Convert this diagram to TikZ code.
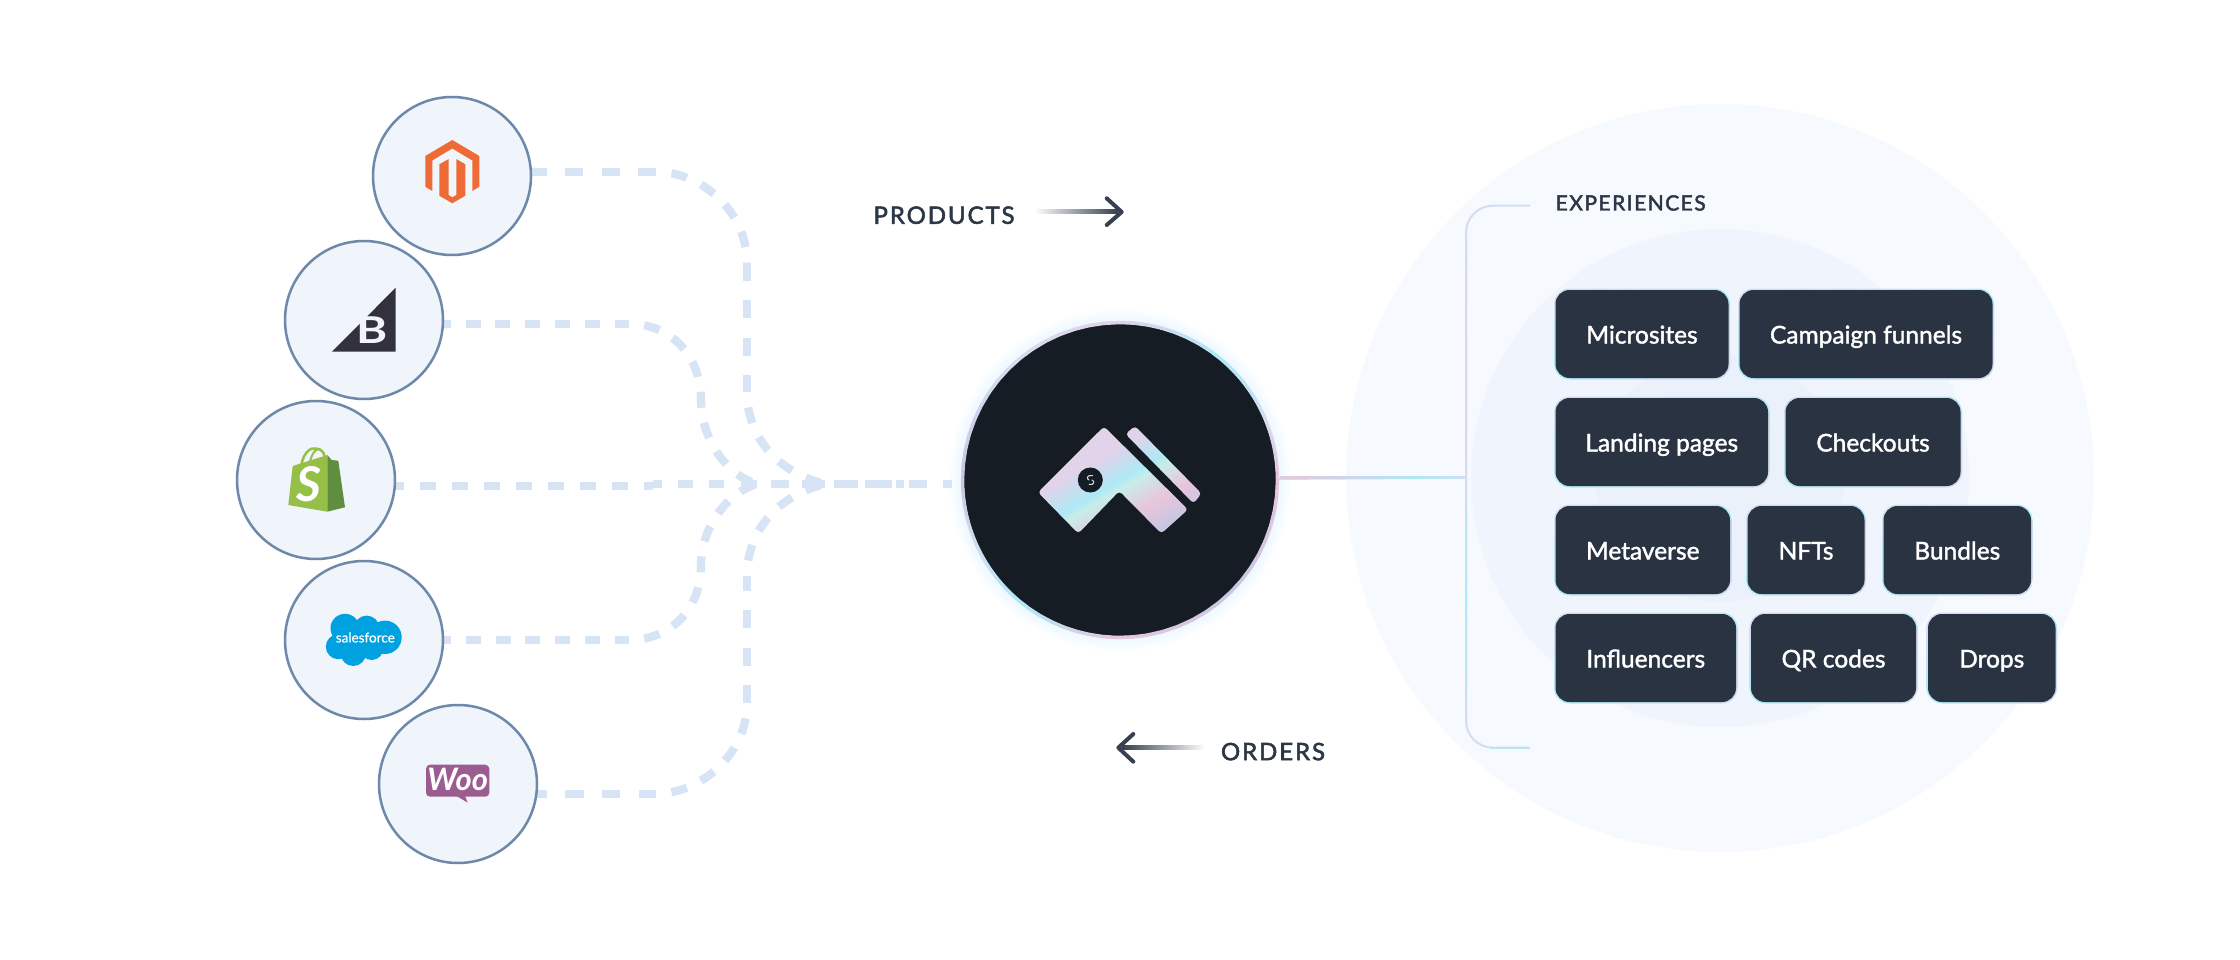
\documentclass[tikz,border=0pt]{standalone}
\usepackage{fontspec}
\usepackage{graphicx}
\setmainfont{Lato}
\newfontfamily\labfont[FakeBold=1.6]{Lato}
\newfontfamily\capfont[LetterSpace=8,FakeBold=2.2]{Lato}
\newfontfamily\capfontb[LetterSpace=7,FakeBold=2.2]{Lato}
\newfontfamily\sffont[FakeBold=0.6]{Lato}
\usetikzlibrary{calc}
\definecolor{dashblue}{HTML}{D6E4F6}
\definecolor{haloA}{HTML}{F6FAFE}
\definecolor{haloB}{HTML}{F0F4FC}
\definecolor{haloC}{HTML}{EBF1FB}
\definecolor{srcfill}{HTML}{F0F5FC}
\definecolor{srcline}{HTML}{6E88A9}
\definecolor{coredark}{HTML}{151C24}
\definecolor{boxdark}{HTML}{293341}
\definecolor{textdark}{HTML}{2B3646}
\definecolor{arrowdark}{HTML}{364050}
\definecolor{hlilac}{HTML}{E2D2EA}
\definecolor{hcyan}{HTML}{AEE9F5}
\definecolor{hmint}{HTML}{C8EDE8}
\definecolor{hpink}{HTML}{E8C6DC}
\definecolor{hlav}{HTML}{C9C6E2}
\definecolor{hsoft}{HTML}{D3DDF0}
\definecolor{magorange}{HTML}{EE6A36}
\definecolor{bcdark}{HTML}{34313F}
\definecolor{shopgreen}{HTML}{95BF47}
\definecolor{shopdark}{HTML}{5E8E3E}
\definecolor{sfblue}{HTML}{00A1E0}
\definecolor{woopurple}{HTML}{9B5C8F}
\pgfdeclareverticalshading{holo}{100bp}{color(0bp)=(hlilac); color(42.5bp)=(hlilac); color(50bp)=(hcyan); color(52bp)=(hmint); color(58.75bp)=(hpink); color(65.5bp)=(hlav); color(100bp)=(hlav)}
\tikzset{
  halo/.style={circle,inner sep=0pt,minimum size=#1},
  source/.style={circle,inner sep=0pt,minimum size=158pt,draw=srcline,fill=srcfill,line width=2.5pt},
  flowbase/.style={draw=dashblue,line width=8.3pt},
  flowA/.style={flowbase,dash pattern=on 18.3pt off 18.35pt},
  flowAvert/.style={flowbase,dash pattern=on 18pt off 19.3pt},
  flowAcurve/.style={flowbase,dash pattern=on 16pt off 15.6pt,dash phase=16pt},
  flowB/.style={flowbase,dash pattern=on 15pt off 14.8pt},
  flowBcurve/.style={flowbase,dash pattern=on 16pt off 15.3pt,dash phase=16pt},
  flowC/.style={flowbase,dash pattern=on 16pt off 16pt},
  flowHub/.style={flowbase,dash pattern=on 8.7pt off 16pt on 15.6pt off 15.7pt on 15.3pt off 16.4pt on 16pt off 14.3pt on 18.3pt off 13pt on 22.7pt off 9pt on 24pt off 7pt on 27pt off 4pt on 8pt off 4.7pt on 18pt off 16.6pt on 8.7pt off 100pt},
  expnode/.style={rectangle,rounded corners=14pt,fill=boxdark,text=white,inner sep=0pt,text height=19pt,text depth=0pt,font=\labfont\fontsize{24.5}{28}\selectfont},
  caplabel/.style={inner sep=0pt,text=textdark,font=\capfont\fontsize{#1}{28}\selectfont},
  headline/.style={draw=arrowdark,line width=4pt,line cap=round,line join=round},
  thin holo/.style={draw=hsoft,line width=2pt}
}
\newcommand{\expbox}[6]{%
  \pgfmathsetmacro{\bxa}{#2-1.5}\pgfmathsetmacro{\bxb}{#4+1.5}
  \pgfmathsetmacro{\bya}{#3-1.5}\pgfmathsetmacro{\byb}{#5+1.5}
  \pgfmathsetmacro{\bym}{(#3+#5)/2}\pgfmathsetmacro{\bxm}{(#2+#4)/2}
  \pgfmathsetmacro{\bw}{#4-#2}\pgfmathsetmacro{\bh}{#5-#3}
  \begin{scope}
    \clip (\bxa-2,\bya-2) rectangle (\bxb+2,\bym);
    \shade[rounded corners=15.5pt,left color=hsoft,middle color=hpink!70!white,right color=hcyan] (\bxa,\bya) rectangle (\bxb,\byb);
  \end{scope}
  \begin{scope}
    \clip (\bxa-2,\bym) rectangle (\bxb+2,\byb+2);
    \shade[rounded corners=15.5pt,left color=hcyan,middle color=hpink,right color=hsoft!80!hlav] (\bxa,\bya) rectangle (\bxb,\byb);
  \end{scope}
  \shade[top color=hsoft,bottom color=hcyan] (\bxa,\bya+15) rectangle (\bxa+1.5,\byb-15);
  \shade[top color=hcyan!60!hpink,middle color=hpink,bottom color=hsoft] (\bxb-1.5,\bya+15) rectangle (\bxb,\byb-15);
  \node[expnode,minimum width=\bw pt,minimum height=\bh pt] (#1) at (\bxm,\bym) {#6};
}
\begin{document}
\begin{tikzpicture}[x=1pt,y=-1pt]
\useasboundingbox (0,0) rectangle (2240,960);
\fill[white] (0,0) rectangle (2240,960);
% halos
\node[halo=748pt,fill=haloA] (haloOuter) at (1720,478) {};
\node[halo=498pt,fill=haloB] (haloMid) at (1720,478) {};
\node[halo=248pt,fill=haloC] (haloInner) at (1720,478) {};
% named anchors
\coordinate (core) at (1120,480);
\coordinate (hubL) at (653,486);
\coordinate (hubM) at (653,484);
\coordinate (hubR) at (952,484);
\coordinate (mergeA) at (825,484);
\coordinate (mergeB) at (757,484);
\coordinate (magS) at (528.4,171.7);
\coordinate (bigS) at (435.7,323.7);
\coordinate (shoS) at (388,486);
\coordinate (salS) at (436,640);
\coordinate (wooS) at (528.7,793.7);
% flows: magento
\draw[flowA] (magS) -- (656,171.7);
\draw[flowAcurve] (656,171.7) .. controls (700,171.7) and (747,210) .. (747,263);
\draw[flowAvert] (747,263) -- (747,392);
\draw[flowAcurve] (747,392) .. controls (747,430) and (770,470) .. (mergeA);
% flows: bigcommerce
\draw[flowB] (bigS) -- (629,323.7);
\draw[flowBcurve] (629,323.7) .. controls (670,323.7) and (701,355) .. (701,400) .. controls (701,440) and (728,476) .. (mergeB);
% flows: shopify and trunk
\draw[flowC] (shoS) -- (hubL);
\draw[flowHub] (hubM) -- (hubR);
% flows: salesforce
\draw[flowB] (salS) -- (629,640);
\draw[flowBcurve] (629,640) .. controls (670,640) and (701,610) .. (701,565) .. controls (701,527) and (728,492) .. (mergeB);
% flows: woo
\draw[flowA] (wooS) -- (656,793.7);
\draw[flowAcurve] (656,793.7) .. controls (700,793.7) and (747,755) .. (747,703);
\draw[flowAvert] (747,703) -- (747,576);
\draw[flowAcurve] (747,576) .. controls (747,538) and (770,498) .. (mergeA);
% bracket
\coordinate (brJoin) at (1466,477.7);
\coordinate (brTop) at (1530,205.7);
\coordinate (brBot) at (1530,747.7);
\draw[thin holo] (core) -- (brJoin);
\shade[left color=hpink,right color=hcyan] (1280,476.7) rectangle (1420,478.7);
\shade[left color=hcyan,right color=hsoft] (1420,476.7) rectangle (1466,478.7);
\draw[thin holo,rounded corners=27pt] (brTop) -- (1466,205.7) -- (1466,747.7) -- (brBot);
\shade[top color=hsoft,bottom color=hlilac] (1465,235) rectangle (1467,400);
\shade[top color=hlilac,bottom color=hsoft] (1465,400) rectangle (1467,478);
\shade[top color=hsoft,bottom color=hcyan] (1465,478) rectangle (1467,600);
\shade[top color=hcyan,bottom color=hsoft] (1465,600) rectangle (1467,722);
\draw[draw=hcyan!70!hsoft,line width=2pt] (1490,747.7) -- (brBot);
% glow
\foreach \r in {171,169,...,159}{\fill[blue!30!cyan!20!white,opacity=0.05] (core) circle (\r pt);}
% core
\node[circle,inner sep=0pt,minimum size=312pt,fill=coredark] (coreNode) at (core) {};
\begin{scope}[shift={(core)}]
\foreach \sa/\ea/\ca/\cb in {-90/-50/hlilac/hcyan,-50/-25/hcyan/hsoft,-25/0/hsoft/hpink,0/45/hpink/hlav,45/92/hlav/hpink,92/130/hpink/hcyan,130/155/hcyan/hsoft,155/180/hsoft/hlav,180/225/hlav/hsoft,225/270/hsoft/hlilac}{
  \foreach \k in {0,...,7}{
    \pgfmathsetmacro{\anga}{\sa+(\ea-\sa)*\k/8}
    \pgfmathsetmacro{\angb}{\sa+(\ea-\sa)*(\k+1)/8}
    \pgfmathsetmacro{\pc}{(\k+0.5)*12.5}
    \draw[draw=\cb!\pc!\ca,line width=3.5pt,line cap=round] (\anga:157.5) -- (\angb:157.5);
  }
}
\end{scope}
% core logo
\begin{scope}
  \clip[rounded corners=3.5pt] (1104,426.5) -- (1188,509.5) -- (1161.3,533.5) -- (1119.3,491) -- (1078.3,533.5) -- (1038,492.3) -- cycle
        (1135,426) -- (1125.5,434) -- (1193.5,503.5) -- (1201.5,493.5) -- cycle;
  \shade[shading=holo,shading angle=-150] (1020,380) rectangle (1220,580);
\end{scope}
\fill[coredark] (1090.3,480) circle (12.5pt);
\draw[hsoft,line width=1pt,line cap=round] (1092.5,475.5) .. controls (1087,474.5) and (1086,479) .. (1089,480);
\draw[hsoft,line width=1pt,line cap=round] (1089,484.5) .. controls (1094.5,485.5) and (1095,481) .. (1092,480);
% sources
\node[source] (magento) at (452,176) {};
\node[source] (bigcommerce) at (364,320) {};
\node[source] (shopify) at (316,480) {};
\node[source] (salesforce) at (364,640) {};
\node[source] (woo) at (458,784) {};
% magento logo
\fill[magorange] (452.3,140) -- (479.3,156) -- (479.3,186.7) -- (472.3,191) -- (472.3,160.5) -- (452.3,148.5) -- (432.3,160.5) -- (432.3,191) -- (425.3,186.7) -- (425.3,156) -- cycle;
\fill[magorange] (439.3,164.3) -- (448.7,159) -- (448.7,195) -- (452.3,197.3) -- (456.3,195) -- (456.3,159) -- (465.3,164.3) -- (465.3,195.7) -- (452.3,203.3) -- (439.3,195.7) -- cycle;
% bigcommerce logo
\fill[bcdark] (395.7,287.7) -- (395.7,351.7) -- (332,351.7) -- cycle;
\node[inner sep=0pt,text=srcfill,font=\bfseries\fontsize{37}{37}\selectfont,text height=26.7pt,text depth=0pt] (bcB) at (372,330) {\scalebox{1.28}[1]{B}};
% shopify logo
\draw[shopgreen,line width=2.5pt] (301.5,464) .. controls (304,452) and (311,447) .. (316,448.5) .. controls (322,449) and (324.5,453) .. (324.5,458);
\draw[shopgreen,line width=2pt] (310,461) .. controls (312,454) and (315,449) .. (319,449);
\fill[shopgreen] (292.7,466) -- (327.3,455) -- (327.3,511.7) -- (288.3,505) -- cycle;
\fill[shopdark] (327.3,455) -- (331.7,460) -- (338.3,460.7) -- (345,507.3) -- (327.3,511.7) -- cycle;
\node[inner sep=0pt,text=white,font=\bfseries\itshape\fontsize{48}{48}\selectfont] (shopS) at (309.3,484) {S};
% salesforce logo
\fill[sfblue] (345,628.3) circle (14.5pt) (366.7,628.3) circle (12.7pt) (385,637.3) circle (16.7pt) (338.3,646.7) circle (12.5pt) (353.3,653.3) circle (12.7pt) (371.7,648.3) circle (11.7pt) (360,640) circle (16pt);
\node[inner sep=0pt,text=white,font=\sffont\fontsize{13.5}{14}\selectfont] (sfText) at (365.3,637.5) {salesforce};
% woo logo
\fill[woopurple,rounded corners=4pt] (426,764.7) rectangle (489.3,796.7);
\fill[woopurple] (456.7,796) -- (467.7,802.7) -- (465,796) -- cycle;
\node[inner sep=0pt,text=white,font=\bfseries\itshape\fontsize{31}{31}\selectfont] (wooText) at (457.7,779.5) {Woo};
% labels
\node[caplabel=24,anchor=center,text height=17pt,text depth=0pt] (products) at (944,215.3) {PRODUCTS};
\coordinate (prodTail) at (1034,212);
\coordinate (prodTip) at (1121.7,212);
\shade[left color=white,right color=arrowdark] ($(prodTail)+(0,-2)$) rectangle ($(prodTip)+(-4,2)$);
\draw[headline] (1106.7,198.3) -- (prodTip) -- (1106.7,225);
\node[caplabel=24,anchor=center,text height=17pt,text depth=0pt] (orders) at (1273,751.7) {ORDERS};
\coordinate (ordTail) at (1205,747.7);
\coordinate (ordTip) at (1118.3,747.7);
\shade[right color=white,left color=arrowdark] ($(ordTip)+(4,-2)$) rectangle ($(ordTail)+(0,2)$);
\draw[headline] (1133.3,734) -- (ordTip) -- (1133.3,761.7);
\node[inner sep=0pt,text=textdark,font=\capfontb\fontsize{21}{28}\selectfont,anchor=west,text height=15pt,text depth=0pt] (experiences) at (1555.5,203) {EXPERIENCES};
% boxes
\expbox{microsites}{1555.5}{290}{1728.5}{378}{Microsites}
\expbox{campaign}{1739.5}{290}{1992.5}{378}{Campaign funnels}
\expbox{landing}{1555.5}{398}{1768}{486}{Landing pages}
\expbox{checkouts}{1785.5}{398}{1960.5}{486}{Checkouts}
\expbox{metaverse}{1555.5}{506}{1730}{594}{Metaverse}
\expbox{nfts}{1747.5}{506}{1864.5}{594}{NFTs}
\expbox{bundles}{1883.5}{506}{2031}{594}{Bundles}
\expbox{influencers}{1555.5}{614}{1736}{702}{Influencers}
\expbox{qrcodes}{1751}{614}{1916}{702}{QR codes}
\expbox{drops}{1928}{614}{2055.5}{702}{Drops}
\end{tikzpicture}
\end{document}
